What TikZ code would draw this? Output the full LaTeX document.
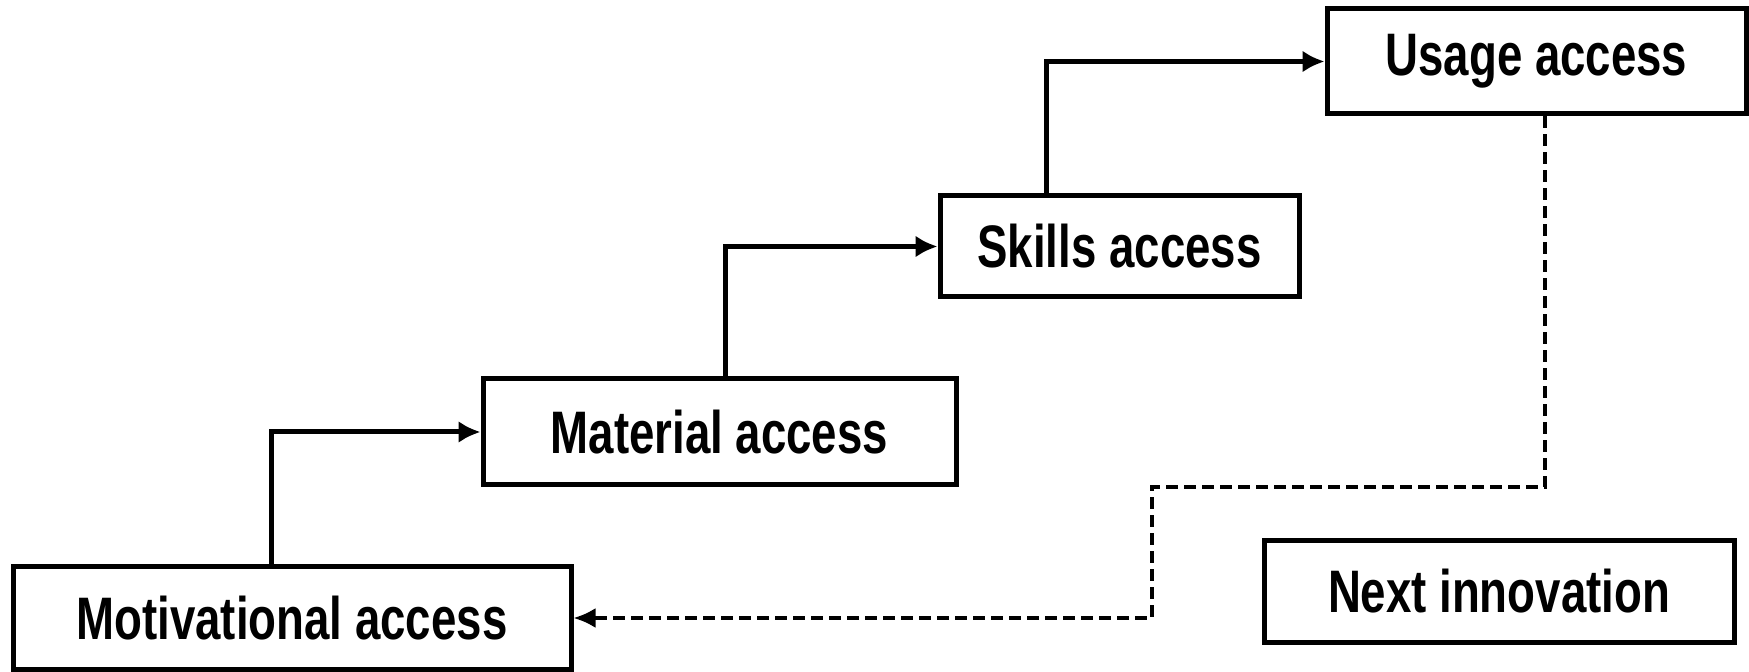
\documentclass[tikz,border=0pt]{standalone}
\usepackage{fontspec}
\setmainfont{Liberation Sans}[FakeStretch=0.76]
\usetikzlibrary{arrows.meta}
\tikzset{
  box/.style={draw, line width=2.5pt, rectangle, inner sep=0pt, align=center,
              font=\fontsize{30pt}{32pt}\selectfont\bfseries},
  conn/.style={line width=2.5pt, -{Latex[length=11pt,width=11pt]}},
  back/.style={line width=1.75pt, dash pattern=on 6pt off 3pt, -{Latex[length=11pt,width=10pt]}}
}
\begin{document}
\begin{tikzpicture}[x=0.5pt, y=-0.5pt]
  \useasboundingbox (0,0) rectangle (1749,672);
  % the four stages and the next innovation
  \node[box, minimum width=279pt, minimum height=51pt] (mot) at (292,618) {Motivational access};
  \node[box, minimum width=236.5pt, minimum height=53pt] (mat) at (719.5,432) {Material access};
  \node[box, minimum width=179.5pt, minimum height=50.5pt] (ski) at (1119.5,246.5) {Skills access};
  \node[box, minimum width=209.5pt, minimum height=52.5pt] (use) at (1536.5,61.5) {Usage access};
  \node[box, minimum width=235pt, minimum height=50.5pt] (nxt) at (1499,591.5) {Next innovation};
  % staircase of solid connectors
  \draw[conn] ([xshift=-10.5pt]mot.north) |- (mat.west);
  \draw[conn] ([xshift=2.75pt]mat.north) |- (ski.west);
  \draw[conn] ([xshift=-36.75pt]ski.north) |- (use.west);
  % dashed return path
  \coordinate (bend) at (1152,487);
  \draw[back] ([xshift=4.25pt]use.south) |- (bend) |- (mot.east);
\end{tikzpicture}
\end{document}
